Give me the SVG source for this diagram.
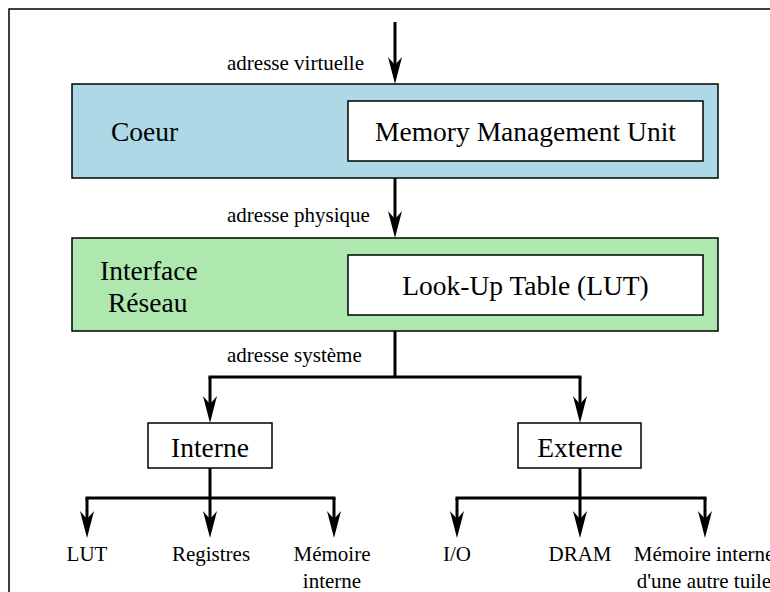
<svg xmlns="http://www.w3.org/2000/svg" width="770" height="592" viewBox="0 0 770 592">
<style>
.box{stroke:#000;stroke-width:1.5}
.t{font-family:"Liberation Serif","Times New Roman",serif;fill:#000}
.big{font-size:27.5px}
.sm{font-size:21px}
.c{text-anchor:middle}
.w{stroke:#000;stroke-width:3;fill:none}
</style>
<defs>
<marker id="ah" viewBox="-27 -8 28 16" refX="-15" refY="0" markerWidth="28" markerHeight="16" markerUnits="userSpaceOnUse" orient="auto">
<path d="M0,0 L-27,-7 L-19,0 L-27,7 Z" fill="#000"/>
</marker>
</defs>
<rect x="9" y="9" width="800" height="600" fill="#fff" stroke="#000" stroke-width="1.5"/>
<g id="coeur">
<rect class="box" x="72" y="84" width="646" height="94" fill="#add8e6"/>
<text class="t big" x="111" y="141">Coeur</text>
</g>
<g id="mmu">
<rect class="box" x="348" y="101" width="355" height="60" fill="#fff"/>
<text class="t big c" x="525.5" y="141">Memory Management Unit</text>
</g>
<g id="interface">
<rect class="box" x="72" y="238" width="646" height="93" fill="#afe8af"/>
<text class="t big" x="100" y="280">Interface</text>
<text class="t big" x="108" y="312">Réseau</text>
</g>
<g id="lut-table">
<rect class="box" x="348" y="255" width="355" height="60" fill="#fff"/>
<text class="t big c" x="525.5" y="295">Look-Up Table (LUT)</text>
</g>
<g id="interne">
<rect class="box" x="148" y="423" width="124" height="45" fill="#fff"/>
<text class="t big c" x="210" y="457">Interne</text>
</g>
<g id="externe">
<rect class="box" x="518" y="423" width="123" height="45" fill="#fff"/>
<text class="t big c" x="580" y="457">Externe</text>
</g>
<g id="leaves">
<text class="t sm c" x="87" y="561">LUT</text>
<text class="t sm c" x="211" y="561">Registres</text>
<text class="t sm c" x="332" y="561">Mémoire</text>
<text class="t sm c" x="332" y="588">interne</text>
<text class="t sm c" x="457" y="561">I/O</text>
<text class="t sm c" x="580" y="561">DRAM</text>
<text class="t sm c" x="704" y="561">Mémoire interne</text>
<text class="t sm c" x="704" y="588">d'une autre tuile</text>
</g>
<g id="connectors">
<line class="w" x1="395" y1="22" x2="395" y2="69" marker-end="url(#ah)"/>
<line class="w" x1="395" y1="178" x2="395" y2="223" marker-end="url(#ah)"/>
<line class="w" x1="395" y1="331" x2="395" y2="377"/>
<polyline class="w" points="210,379 210,377 580,377 580,379"/>
<line class="w" x1="210" y1="377" x2="210" y2="408" marker-end="url(#ah)"/>
<line class="w" x1="580" y1="377" x2="580" y2="408" marker-end="url(#ah)"/>
<line class="w" x1="210" y1="468" x2="210" y2="498"/>
<line class="w" x1="580" y1="468" x2="580" y2="498"/>
<polyline class="w" points="87,500 87,498 334,498 334,500"/>
<polyline class="w" points="457,500 457,498 705,498 705,500"/>
<line class="w" x1="87" y1="498" x2="87" y2="523" marker-end="url(#ah)"/>
<line class="w" x1="210" y1="498" x2="210" y2="523" marker-end="url(#ah)"/>
<line class="w" x1="334" y1="498" x2="334" y2="523" marker-end="url(#ah)"/>
<line class="w" x1="457" y1="498" x2="457" y2="523" marker-end="url(#ah)"/>
<line class="w" x1="580" y1="498" x2="580" y2="523" marker-end="url(#ah)"/>
<line class="w" x1="705" y1="498" x2="705" y2="523" marker-end="url(#ah)"/>
<text class="t sm" x="227" y="70">adresse virtuelle</text>
<text class="t sm" x="227" y="222">adresse physique</text>
<text class="t sm" x="227" y="362">adresse système</text>
</g>
</svg>
